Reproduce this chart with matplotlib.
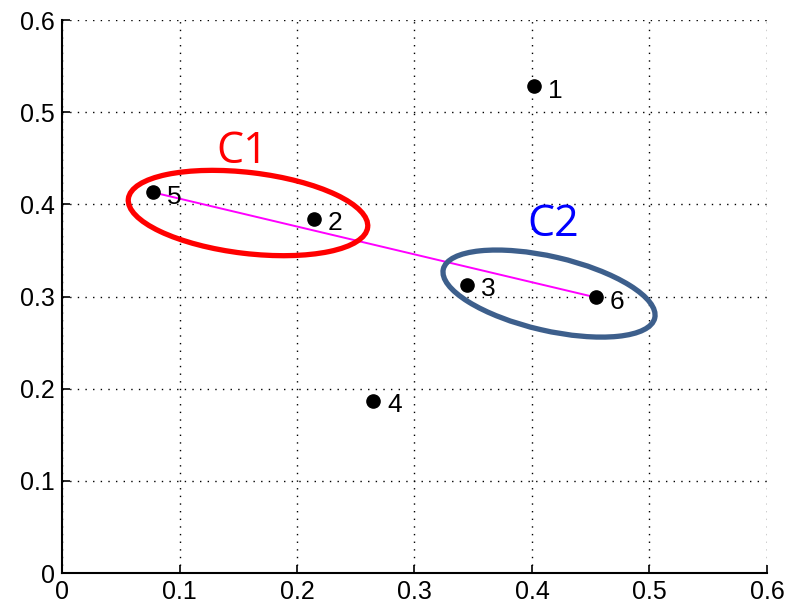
import matplotlib
matplotlib.use("Agg")
import matplotlib.pyplot as plt
import numpy as np
from matplotlib.patches import Ellipse
from matplotlib.transforms import ScaledTranslation

# points
point_ids = ["1", "2", "3", "4", "5", "6"]
x_vals = [0.402, 0.2145, 0.345, 0.265, 0.0775, 0.4545]
y_vals = [0.528, 0.384, 0.313, 0.1865, 0.413, 0.299]

# the link goes from point 5 to point 6
link = ["5", "6"]

# cluster ellipses: name, centre (data), width/height (inch), angle, colour, label pos
clusters = ["C1", "C2"]
cl_centre = [(0.1583, 0.3906), (0.4145, 0.3032)]
cl_size = [(2.41, 0.81), (2.17, 0.74)]
cl_angle = [-6.8, -13.0]
cl_edge = ["#ff0000", "#3d5f8c"]
cl_text_pos = [(0.153, 0.457), (0.418, 0.3775)]
cl_text_col = ["#ff0000", "#0000ff"]

ticks = [0, 0.1, 0.2, 0.3, 0.4, 0.5, 0.6]
tick_labels = ["0", "0.1", "0.2", "0.3", "0.4", "0.5", "0.6"]

plt.rcParams['font.family'] = ['Liberation Sans', 'DejaVu Sans']

fig = plt.figure(figsize=(7.86, 6.07), dpi=100)
ax = fig.add_axes([0.0789, 0.056, 0.8969, 0.911])

ax.set_xlim(0, 0.6)
ax.set_ylim(0, 0.6)

# grid
ax.grid(True, color='black', linestyle=(0, (1, 4.5)), linewidth=1.0)
ax.set_axisbelow(True)

# link line
i0 = point_ids.index(link[0])
i1 = point_ids.index(link[1])
ax.plot([x_vals[i0], x_vals[i1]], [y_vals[i0], y_vals[i1]],
        color='#ff00ff', linewidth=1.4, zorder=3)

# points + labels
ax.plot(x_vals, y_vals, 'o', color='black', markersize=9.5, zorder=4)
for pid, xv, yv in zip(point_ids, x_vals, y_vals):
    ax.annotate(pid, (xv, yv), xytext=(10, -3), textcoords='offset points',
                fontsize=19, va='center', ha='left', zorder=5)

# cluster ellipses (rigid shape in inches, centred in data coords)
for name, c, s, a, ec, tp, tc in zip(clusters, cl_centre, cl_size, cl_angle,
                                     cl_edge, cl_text_pos, cl_text_col):
    tr = fig.dpi_scale_trans + ScaledTranslation(c[0], c[1], ax.transData)
    ell = Ellipse((0, 0), s[0], s[1], angle=a, fill=False, edgecolor=ec,
                  linewidth=3.8, transform=tr, zorder=6, clip_on=False)
    ax.add_patch(ell)
    ax.text(tp[0], tp[1], name, color=tc, fontsize=31, ha='center', va='center',
            family=['Open Sans', 'DejaVu Sans'], zorder=7)

# axes style (matlab-like)
ax.set_xticks(ticks)
ax.set_xticklabels(tick_labels)
ax.set_yticks(ticks)
ax.set_yticklabels(tick_labels)
ax.tick_params(direction='in', length=6, width=1.2, labelsize=18, pad=5)
ax.spines['top'].set_visible(False)
ax.spines['right'].set_visible(False)
ax.spines['left'].set_linewidth(1.5)
ax.spines['bottom'].set_linewidth(1.5)

fig.savefig("out.png", dpi=100)
